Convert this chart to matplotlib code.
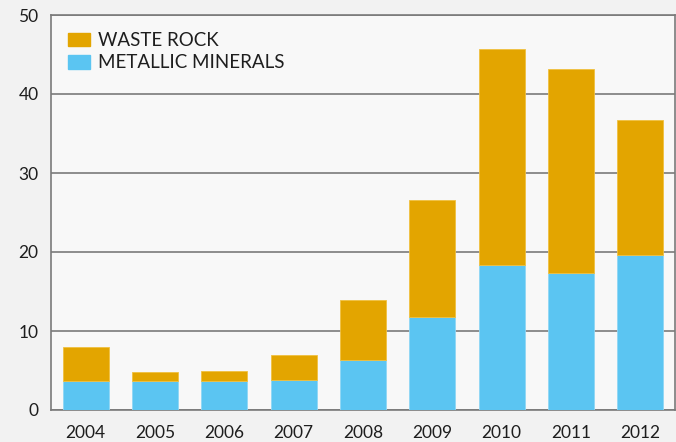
import matplotlib.pyplot as plt
import matplotlib.patches as mpatches
import numpy as np

# Production by year (million tonnes), split into metallic minerals and waste rock
years = ["2004", "2005", "2006", "2007", "2008", "2009", "2010", "2011", "2012"]
metallic = [3.7, 3.7, 3.7, 3.8, 6.3, 11.8, 18.3, 17.3, 19.6]
waste = [4.3, 1.1, 1.2, 3.1, 7.6, 14.8, 27.4, 25.9, 17.1]

ORANGE = "#E3A500"
BLUE = "#5BC5F2"
GRID = "#7a7a7a"
TEXT = "#1e1e1e"

plt.rcParams["font.family"] = ["Lato", "DejaVu Sans"]

fig = plt.figure(figsize=(6.76, 4.42), dpi=100, facecolor="#f2f2f2")
ax = fig.add_axes([51 / 676, 32 / 442, 624 / 676, 395 / 442])
ax.set_facecolor("#f8f8f8")

x = np.arange(len(years))
ax.bar(x, metallic, width=0.66, color=BLUE, edgecolor="#8fd6f5",
       linewidth=0.6, zorder=3)
ax.bar(x, waste, bottom=metallic, width=0.66, color=ORANGE,
       edgecolor="#f0c040", linewidth=0.6, zorder=3)

ax.set_xlim(-0.5, len(years) - 0.5)
ax.set_ylim(0, 50)
ax.set_yticks(range(0, 51, 10))
ax.set_xticks(x)
ax.set_xticklabels(years)
ax.tick_params(axis="both", length=0, labelsize=12.5, colors=TEXT)
ax.tick_params(axis="y", pad=9)
ax.tick_params(axis="x", pad=11)

ax.grid(axis="y", color=GRID, linewidth=1.2, zorder=1)
for side in ax.spines.values():
    side.set_color(GRID)
    side.set_linewidth(1.2)

handles = [mpatches.Patch(color=ORANGE, label="WASTE ROCK"),
           mpatches.Patch(color=BLUE, label="METALLIC MINERALS")]
ax.legend(handles=handles, loc="upper left", bbox_to_anchor=(17 / 624, 1 - 17 / 395),
          frameon=False, borderpad=0, borderaxespad=0, fontsize=13.5,
          handlelength=1.17, handleheight=0.75, handletextpad=0.45,
          labelspacing=0.28, labelcolor=TEXT)

plt.savefig("out.png", dpi=100, facecolor=fig.get_facecolor())
